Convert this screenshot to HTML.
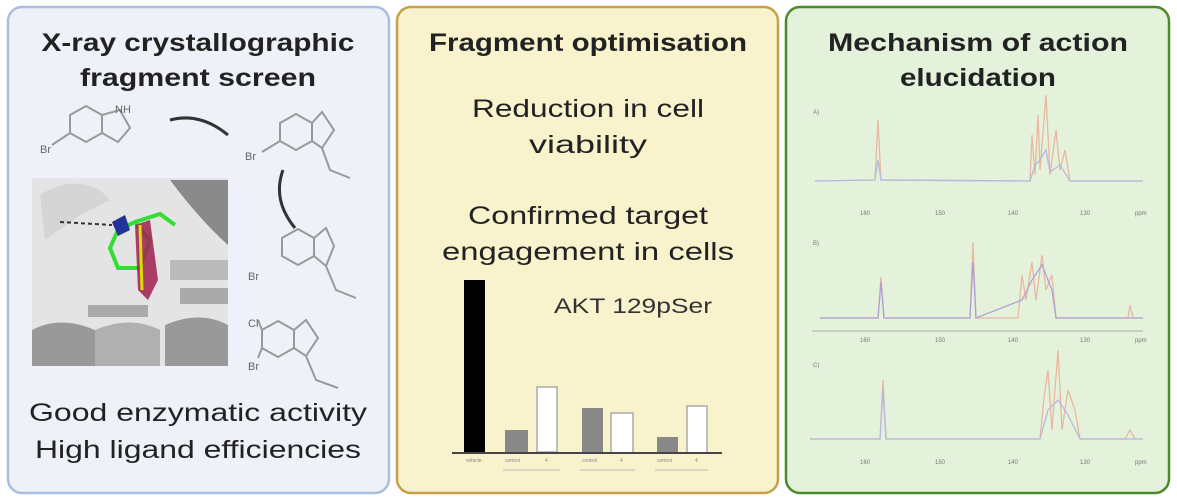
<!DOCTYPE html>
<html><head><meta charset="utf-8"><style>
body{margin:0;background:#fff;}
svg{display:block;font-family:"Liberation Sans",Arial,sans-serif;}
</style></head><body>
<svg width="1177" height="501" viewBox="0 0 1177 501">
<rect x="0" y="0" width="1177" height="501" fill="#fff"/>
<!-- panel 1 -->
<rect x="8" y="7" width="381" height="486" rx="14" fill="#eef1f8" stroke="#a9bfe2" stroke-width="2.5"/>
<text x="198" y="51" text-anchor="middle" font-size="25" font-weight="bold" fill="#222" textLength="313" lengthAdjust="spacingAndGlyphs">X-ray crystallographic</text>
<text x="198" y="86" text-anchor="middle" font-size="25" font-weight="bold" fill="#222" textLength="236" lengthAdjust="spacingAndGlyphs">fragment screen</text>
<g stroke="#999" stroke-width="2" fill="none">
<polygon points="70,115 86,106 102,115 102,133 86,142 70,133"/>
<polyline points="102,115 120,110 130,128 118,142 102,133"/>
<line x1="70" y1="133" x2="52" y2="145"/>
<polygon points="280,123 296,114 312,123 312,141 296,150 280,141"/>
<polyline points="312,123 322,112 334,130 322,148 312,141"/>
<polyline points="322,148 330,170 350,178"/>
<line x1="280" y1="141" x2="262" y2="152"/>
<polygon points="282,238 298,229 314,238 314,256 298,265 282,256"/>
<polyline points="314,238 326,228 334,246 326,266 314,256"/>
<polyline points="326,266 336,290 356,298"/>
<polygon points="262,330 278,321 294,330 294,348 278,357 262,348"/>
<polyline points="294,330 306,320 318,338 306,356 294,348"/>
<polyline points="306,356 316,380 338,388"/>
<line x1="262" y1="330" x2="258" y2="320"/><line x1="262" y1="348" x2="258" y2="358"/>
</g>
<g stroke="#333" stroke-width="3" fill="none">
<path d="M170,120 Q200,112 228,135"/>
<path d="M283,170 Q272,200 295,228"/>
</g>
<g font-size="11" fill="#666"><text x="40" y="153">Br</text><text x="245" y="160">Br</text><text x="248" y="280">Br</text><text x="248" y="370">Br</text><text x="248" y="327">Cl</text><text x="115" y="113">NH</text></g>
<!-- protein image -->
<rect x="32" y="178" width="196" height="188" fill="#e4e4e4"/>
<path d="M40,195 Q70,175 100,190 L110,200 L80,215 Q60,230 45,240Z" fill="#ccc" opacity=".6"/>
<path d="M170,180 L228,180 L228,245 Q200,220 170,180Z" fill="#8a8a8a"/>
<rect x="170" y="260" width="58" height="20" fill="#bbb"/>
<rect x="180" y="288" width="48" height="16" fill="#aaa"/>
<path d="M32,330 Q60,315 95,330 L95,366 L32,366Z" fill="#999"/>
<path d="M95,330 Q130,315 160,330 L160,366 L95,366Z" fill="#b0b0b0"/>
<path d="M165,325 Q200,310 228,325 L228,366 L165,366Z" fill="#999"/>
<rect x="88" y="305" width="60" height="12" fill="#aaa"/>
<g stroke="#33dd33" stroke-width="4" fill="none"><polygon points="118,230 135,222 150,240 140,268 118,268 110,248"/><polyline points="135,222 160,214 175,225"/></g>
<polygon points="135,225 150,220 158,280 148,300 138,290" fill="#a02050" opacity=".85"/>
<polygon points="112,222 125,215 130,230 118,236" fill="#223399"/>
<line x1="140" y1="225" x2="142" y2="290" stroke="#dd0" stroke-width="3"/>
<line x1="60" y1="222" x2="112" y2="225" stroke="#333" stroke-width="2" stroke-dasharray="4,3"/>
<text x="198" y="421" text-anchor="middle" font-size="25" fill="#222" textLength="338" lengthAdjust="spacingAndGlyphs">Good enzymatic activity</text>
<text x="198" y="458" text-anchor="middle" font-size="25" fill="#222" textLength="326" lengthAdjust="spacingAndGlyphs">High ligand efficiencies</text>
<!-- panel 2 -->
<rect x="397" y="7" width="381" height="486" rx="14" fill="#f8f2cd" stroke="#c8a04a" stroke-width="2.5"/>
<text x="588" y="51" text-anchor="middle" font-size="25" font-weight="bold" fill="#222" textLength="318" lengthAdjust="spacingAndGlyphs">Fragment optimisation</text>
<text x="588" y="117" text-anchor="middle" font-size="25" fill="#222" textLength="232" lengthAdjust="spacingAndGlyphs">Reduction in cell</text>
<text x="588" y="153" text-anchor="middle" font-size="25" fill="#222" textLength="118" lengthAdjust="spacingAndGlyphs">viability</text>
<text x="588" y="224" text-anchor="middle" font-size="25" fill="#222" textLength="240" lengthAdjust="spacingAndGlyphs">Confirmed target</text>
<text x="588" y="260" text-anchor="middle" font-size="25" fill="#222" textLength="292" lengthAdjust="spacingAndGlyphs">engagement in cells</text>
<text x="633" y="313" text-anchor="middle" font-size="21" fill="#333" textLength="158" lengthAdjust="spacingAndGlyphs">AKT 129pSer</text>
<rect x="464" y="280" width="21" height="173" fill="#000"/>
<rect x="505" y="430" width="23" height="23" fill="#888"/>
<rect x="537" y="387" width="20" height="65" fill="#fff" stroke="#aaa" stroke-width="1.5"/>
<rect x="582" y="408" width="21" height="45" fill="#888"/>
<rect x="611" y="413" width="22" height="40" fill="#fff" stroke="#aaa" stroke-width="1.5"/>
<rect x="657" y="437" width="21" height="16" fill="#888"/>
<rect x="687" y="406" width="20" height="47" fill="#fff" stroke="#aaa" stroke-width="1.5"/>
<line x1="452" y1="453" x2="722" y2="453" stroke="#444" stroke-width="2"/>
<g stroke="#bbb" stroke-width="1"><line x1="503" y1="470" x2="560" y2="470"/><line x1="580" y1="470" x2="635" y2="470"/><line x1="655" y1="470" x2="708" y2="470"/></g>
<g font-size="5" fill="#888"><text x="466" y="462">vehicle</text><text x="505" y="462">control</text><text x="545" y="462">4</text><text x="582" y="462">control</text><text x="620" y="462">4</text><text x="657" y="462">control</text><text x="695" y="462">4</text></g>
<!-- panel 3 -->
<rect x="786" y="7" width="383" height="486" rx="14" fill="#e4f2dc" stroke="#4a8a2c" stroke-width="2.5"/>
<text x="978" y="51" text-anchor="middle" font-size="25" font-weight="bold" fill="#222" textLength="300" lengthAdjust="spacingAndGlyphs">Mechanism of action</text>
<text x="978" y="86" text-anchor="middle" font-size="25" font-weight="bold" fill="#222" textLength="156" lengthAdjust="spacingAndGlyphs">elucidation</text>
<g fill="none" stroke-width="1.3">
<path d="M815,181 L875,180 L878,120 L881,180 L1030,181 L1032,135 L1035,175 L1038,115 L1040,170 L1046,95 L1050,175 L1056,130 L1060,170 L1065,150 L1070,181 L1143,181" stroke="#e8b8a0"/>
<path d="M815,181 L875,180 L878,160 L881,180 L1030,181 L1035,165 L1040,160 L1046,150 L1050,172 L1060,165 L1070,181 L1143,181" stroke="#b8b8e0"/>
<path d="M820,318 L878,318 L881,277 L884,318 L970,318 L973,242 L976,318 L1018,318 L1022,275 L1026,300 L1032,262 L1036,300 L1042,255 L1046,290 L1052,275 L1056,318 L1128,318 L1130,305 L1133,318 L1143,318" stroke="#e8b8a0"/>
<path d="M820,318 L878,318 L881,282 L884,318 L970,318 L973,262 L976,318 L1022,300 L1032,280 L1042,265 L1052,290 L1056,318 L1143,318" stroke="#b0a0d8"/>
<path d="M810,439 L880,439 L883,380 L886,439 L1040,439 L1044,398 L1048,370 L1052,430 L1058,350 L1062,430 L1068,390 L1075,410 L1080,439 L1125,439 L1130,430 L1135,439 L1143,439" stroke="#e8b8a0"/>
<path d="M810,439 L880,439 L883,390 L886,439 L1040,439 L1048,410 L1058,400 L1068,415 L1080,439 L1143,439" stroke="#b8b8e0"/>
</g>
<line x1="812" y1="331" x2="1143" y2="331" stroke="#aaa" stroke-width="1"/>
<g font-size="6" fill="#777"><text x="813" y="114">A)</text><text x="813" y="245">B)</text><text x="813" y="367">C)</text>
<text x="860" y="215">160</text><text x="935" y="215">150</text><text x="1008" y="215">140</text><text x="1080" y="215">130</text><text x="1135" y="215">ppm</text>
<text x="860" y="342">160</text><text x="935" y="342">150</text><text x="1008" y="342">140</text><text x="1080" y="342">130</text><text x="1135" y="342">ppm</text>
<text x="860" y="464">160</text><text x="935" y="464">150</text><text x="1008" y="464">140</text><text x="1080" y="464">130</text><text x="1135" y="464">ppm</text></g>
</svg>
</body></html>
